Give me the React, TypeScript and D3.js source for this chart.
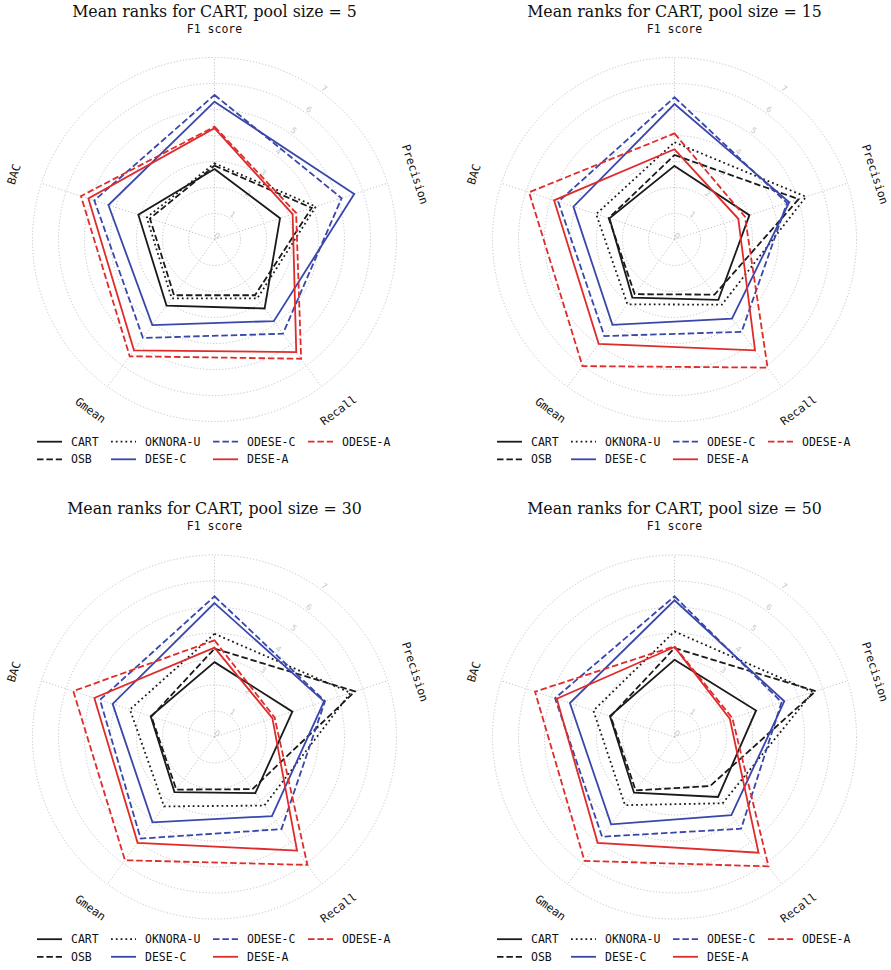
import React from "react";
import * as d3 from "d3";

const metrics = ["F1 score", "Precision", "Recall", "Gmean", "BAC"];
const methods = ["CART", "OSB", "OKNORA-U", "DESE-C", "ODESE-C", "DESE-A", "ODESE-A"];
const poolSizes = [5, 15, 30, 50];
const rankTicks = [0, 1, 2, 3, 4, 5, 6, 7];

// values per method: [F1 score, Precision, Recall, Gmean, BAC]
const pool5 = [
  [2.71, 2.65, 3.28, 3.14, 3.08],
  [2.84, 3.93, 2.65, 2.65, 2.61],
  [2.93, 4.1, 2.8, 2.8, 2.74],
  [5.3, 5.65, 3.88, 4.07, 4.29],
  [5.56, 5.14, 4.48, 4.68, 4.86],
  [4.28, 3.16, 5.35, 5.27, 5.1],
  [4.34, 3.3, 5.67, 5.55, 5.4],
];
const pool15 = [
  [2.83, 3.03, 2.87, 2.76, 2.63],
  [3.25, 5.02, 2.62, 2.6, 2.66],
  [3.74, 5.32, 3.1, 3.08, 3.17],
  [5.21, 4.64, 3.76, 4.06, 4.09],
  [5.47, 4.55, 4.39, 4.59, 4.7],
  [3.47, 2.58, 5.27, 4.96, 4.87],
  [4.08, 2.85, 6.09, 6.02, 5.88],
];
const pool30 = [
  [2.88, 3.15, 2.67, 2.62, 2.58],
  [3.4, 5.68, 2.48, 2.5, 2.55],
  [3.97, 5.5, 3.26, 3.3, 3.42],
  [5.15, 4.43, 3.76, 4.06, 4.12],
  [5.41, 4.47, 4.38, 4.83, 4.63],
  [3.44, 2.34, 5.4, 5.03, 4.86],
  [3.72, 2.43, 6.08, 5.86, 5.71],
];
const pool50 = [
  [2.97, 3.3, 2.85, 2.65, 2.61],
  [3.42, 5.71, 2.33, 2.54, 2.58],
  [4.06, 5.6, 3.15, 3.24, 3.28],
  [5.26, 4.44, 3.72, 4.15, 4.23],
  [5.41, 4.33, 4.36, 4.74, 4.83],
  [3.46, 2.24, 5.5, 5.03, 4.76],
  [3.49, 2.34, 6.15, 5.89, 5.64],
];
const poolData = [pool5, pool15, pool30, pool50];

const BLACK = "#1a1a1a";
const BLUE = "#3a47aa";
const RED = "#e02b2b";
const DASH = "6.5 2.9";
const DOT = "1.8 3";
const styles: Record<string, { color: string; dash: string | undefined }> = {
  "CART": { color: BLACK, dash: undefined },
  "OSB": { color: BLACK, dash: DASH },
  "OKNORA-U": { color: BLACK, dash: DOT },
  "DESE-C": { color: BLUE, dash: undefined },
  "ODESE-C": { color: BLUE, dash: DASH },
  "DESE-A": { color: RED, dash: undefined },
  "ODESE-A": { color: RED, dash: DASH },
};

const centersX = [214.5, 674.5];
const centersY = [239.5, 737];
const MONO = "'DejaVu Sans Mono', monospace";
const SERIF = "'DejaVu Serif', serif";
const GRID = "#c4c4c4";
const LW = 1.8;

function Radar({ cx, cy, pool, data }: { cx: number; cy: number; pool: number; data: number[][] }) {
  const r = d3.scaleLinear().domain([0, 7]).range([0, 182]);
  const angle = d3.scaleLinear().domain([0, metrics.length]).range([0, 2 * Math.PI]);
  const line = d3
    .lineRadial<number>()
    .angle((_, i) => angle(i))
    .radius((d) => r(d))
    .curve(d3.curveLinearClosed);
  const labelR = 211;
  const tickAng = Math.PI / 5;
  const legendCols = [-177.5, -103.5, -1.5, 93.5];
  const legendRows = [441.7 - 239.5, 459.3 - 239.5];
  return (
    <g transform={`translate(${cx},${cy})`}>
      <text x={0} y={-223} textAnchor="middle" fontFamily={SERIF} fontSize={15.8} fill="#111">
        {`Mean ranks for CART, pool size = ${pool}`}
      </text>
      {rankTicks.slice(1).map((t) => (
        <circle key={t} r={r(t)} fill="none" stroke={GRID} strokeWidth={1} strokeDasharray="1.2 2" />
      ))}
      {metrics.map((m, i) => {
        const a = angle(i);
        return (
          <line
            key={m}
            x1={0}
            y1={0}
            x2={r(7) * Math.sin(a)}
            y2={-r(7) * Math.cos(a)}
            stroke={GRID}
            strokeWidth={1}
            strokeDasharray="1.2 2"
          />
        );
      })}
      {rankTicks.map((t) => {
        const rr = r(t) + 4.5;
        return (
          <text
            key={t}
            x={rr * Math.sin(tickAng)}
            y={-rr * Math.cos(tickAng)}
            textAnchor="middle"
            dominantBaseline="central"
            fontFamily="'DejaVu Sans', sans-serif"
            fontSize={8}
            fill="#c8c8c8"
            transform={`rotate(36 ${rr * Math.sin(tickAng)} ${-rr * Math.cos(tickAng)})`}
          >
            {t}
          </text>
        );
      })}
      {metrics.map((m, i) => {
        const a = angle(i);
        const x = labelR * Math.sin(a);
        const y = -labelR * Math.cos(a);
        let deg = (a * 180) / Math.PI;
        if (deg > 90 && deg <= 270) deg -= 180;
        else if (deg > 270) deg -= 360;
        return (
          <text
            key={m}
            x={x}
            y={y}
            textAnchor="middle"
            dominantBaseline="central"
            fontFamily={MONO}
            fontSize={11.5}
            fill="#111"
            transform={`rotate(${deg} ${x} ${y})`}
          >
            {m}
          </text>
        );
      })}
      {methods.map((name, k) => (
        <path
          key={name}
          d={line(data[k]) || ""}
          fill="none"
          stroke={styles[name].color}
          strokeWidth={LW}
          strokeDasharray={styles[name].dash}
          strokeLinejoin="miter"
        />
      ))}
      {methods.map((name, k) => {
        const col = Math.floor(k / 2);
        const row = k % 2;
        const x = legendCols[col];
        const y = legendRows[row];
        return (
          <g key={name}>
            <line
              x1={x}
              x2={x + 25}
              y1={y}
              y2={y}
              stroke={styles[name].color}
              strokeWidth={LW}
              strokeDasharray={styles[name].dash}
            />
            <text x={x + 34} y={y} dominantBaseline="central" fontFamily={MONO} fontSize={11.5} fill="#111">
              {name}
            </text>
          </g>
        );
      })}
    </g>
  );
}

export default function App() {
  return (
    <svg
      width={891}
      height={970}
      style={{ position: "absolute", left: 0, top: 0, background: "#fff" }}
    >
      <rect width={891} height={970} fill="#fff" />
      {poolSizes.map((p, i) => (
        <Radar
          key={p}
          cx={centersX[i % 2]}
          cy={centersY[Math.floor(i / 2)]}
          pool={p}
          data={poolData[i]}
        />
      ))}
    </svg>
  );
}
